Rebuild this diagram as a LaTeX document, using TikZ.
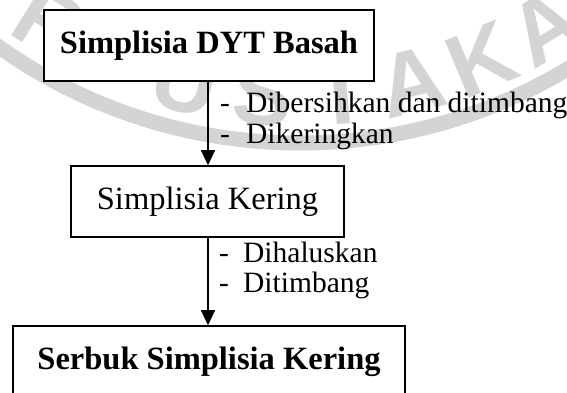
\documentclass[tikz,border=0pt]{standalone}
\usepackage{fontspec}
\setmainfont{Liberation Serif}
\newfontfamily\wmfont{Liberation Sans}
\usetikzlibrary{arrows.meta}
\begin{document}
\begin{tikzpicture}[x=1pt,y=1pt,
  flowbox/.style={draw, line width=1.6pt, fill=white, minimum height=71pt,
    inner sep=0pt, font=\fontsize{32.5}{39}\selectfont},
  note/.style={anchor=base west, inner sep=0pt, font=\fontsize{29.5}{35}\selectfont},
  flow/.style={line width=1.3pt, -{Triangle[length=15pt,width=14pt]}},
  wmark/.style={black!17},
  wmletter/.style={wmark, text=black!17, inner sep=0pt,
    font=\wmfont\bfseries\fontsize{90}{90}\selectfont,
    text height=65pt, text depth=0pt}]
\useasboundingbox (0,0) rectangle (567,-392);
\clip (0,0) rectangle (567,-392);

% faint seal in the background: ring and lettering
\coordinate (seal) at (300,376);
\draw[wmark, line width=15pt] ([shift={(226:519)}]seal) arc (226:314:519);
\foreach \ch/\ang in {E/-41, R/-32, P/-23, U/-14, S/-4.5, T/5, A/13.7, K/22.6, A/31.3}
  \node[wmletter, rotate=\ang] at ([shift={(270+\ang:470)}]seal) {\ch};

% process boxes
\node[flowbox, minimum width=330pt] (raw) at (209,-45.5)
  {\raisebox{-2pt}{\bfseries Simplisia DYT Basah}};
\node[flowbox, minimum width=273pt] (dry) at (207.5,-201.5) {Simplisia Kering};
\node[flowbox, minimum width=392pt] (powder) at (209,-361.5)
  {\bfseries Serbuk Simplisia Kering};

% connectors
\coordinate (spine) at (208,0);
\draw[flow] (raw.south -| spine) -- (dry.north -| spine);
\draw[flow] (dry.south -| spine) -- (powder.north -| spine);

% treatment steps
\node[note] (stepa) at (220,-112) {\makebox[26pt][l]{-}Dibersihkan dan ditimbang};
\node[note] (stepb) at (220,-143) {\makebox[26pt][l]{-}Dikeringkan};
\node[note] (stepc) at (219,-262) {\makebox[24pt][l]{-}Dihaluskan};
\node[note] (stepd) at (219,-292) {\makebox[24pt][l]{-}Ditimbang};
\end{tikzpicture}
\end{document}
